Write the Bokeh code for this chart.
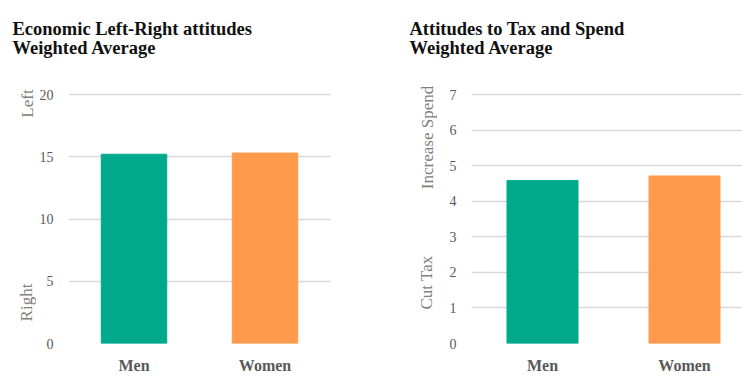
import math
from bokeh.plotting import figure
from bokeh.layouts import row, column
from bokeh.models import Range1d, FixedTicker, Label, ColumnDataSource
from bokeh.embed import file_html
from bokeh.resources import INLINE

categories = ["Men", "Women"]
econ_values = [15.2, 15.3]
tax_values = [4.58, 4.71]
bar_colors = ["#00A98B", "#FF9A4D"]
econ_ticks = [0, 5, 10, 15, 20]
tax_ticks = [0, 1, 2, 3, 4, 5, 6, 7]
econ_title = ["Economic Left-Right attitudes", "Weighted Average"]
tax_title = ["Attitudes to Tax and Spend", "Weighted Average"]
econ_side = ["Left", "Right"]
tax_side = ["Increase Spend", "Cut Tax"]

SERIF = "Liberation Serif"
GRAY = "#595959"
LIGHT = "#808080"
GRID = "#D9D9D9"
TITLE_COLOR = "#111111"

W = 371
H = 377
HEAD_H = 60
PLOT_TOP = 94       # pixel row of the top tick
FRAME_TOP = 72      # invisible frame top (room for side labels)
FRAME_BOTTOM = 343

xpos = [i + 0.5 for i in range(len(categories))]


def blank(width, height, y0, y1, top=0, bottom=0):
    f = figure(width=width, height=height, output_backend="svg", toolbar_location=None,
               x_range=Range1d(0, width), y_range=Range1d(y0, y1),
               min_border_left=0, min_border_right=0,
               min_border_top=top, min_border_bottom=bottom)
    f.axis.visible = False
    f.grid.visible = False
    f.outline_line_color = None
    return f


def make(values, ticks, ymax, frame_left, frame_right, slot_px, side_w,
         title_lines, title_x, side_texts, side_pos):
    head = blank(W, HEAD_H, HEAD_H, 0)
    for line, base in zip(title_lines, [28.5, 47]):
        head.add_layout(Label(x=title_x, y=base, text=line, text_font=SERIF,
                              text_font_style="bold", text_font_size="18.5px",
                              text_color=TITLE_COLOR, text_baseline="alphabetic"))

    side = blank(side_w, H - HEAD_H, FRAME_BOTTOM, FRAME_TOP,
                 top=FRAME_TOP - HEAD_H, bottom=H - FRAME_BOTTOM)
    for txt, (cx, cy) in zip(side_texts, side_pos):
        side.add_layout(Label(x=cx, y=cy, text=txt, angle=math.pi / 2,
                              text_font=SERIF, text_font_size="17px", text_color=LIGHT,
                              text_align="center", text_baseline="middle"))

    px_per_unit = (FRAME_BOTTOM - PLOT_TOP) / ymax
    y_end = ymax + (PLOT_TOP - FRAME_TOP) / px_per_unit
    frame_w = frame_right - frame_left
    p = figure(width=W - side_w, height=H - HEAD_H, output_backend="svg",
               toolbar_location=None,
               x_range=Range1d(0, frame_w / slot_px), y_range=Range1d(0, y_end),
               min_border_left=frame_left - side_w, min_border_right=W - frame_right,
               min_border_top=FRAME_TOP - HEAD_H, min_border_bottom=H - FRAME_BOTTOM)
    src = ColumnDataSource(dict(x=xpos, top=values, color=bar_colors))
    p.vbar(x="x", top="top", width=0.5, color="color", source=src)
    p.outline_line_color = None
    p.xgrid.grid_line_color = None
    p.ygrid.grid_line_color = GRID
    p.ygrid.grid_line_width = 1.5
    p.ygrid.ticker = FixedTicker(ticks=ticks)
    p.yaxis.ticker = FixedTicker(ticks=ticks)
    p.xaxis.ticker = FixedTicker(ticks=xpos)
    p.xaxis.major_label_overrides = {x: c for x, c in zip(xpos, categories)}
    for ax in (p.xaxis, p.yaxis):
        ax.axis_line_color = None
        ax.major_tick_line_color = None
        ax.minor_tick_line_color = None
        ax.major_tick_out = 0
        ax.major_tick_in = 0
        ax.major_label_text_color = GRAY
        ax.major_label_text_font = SERIF
    p.yaxis.major_label_text_font_size = "14px"
    p.yaxis.major_label_standoff = 15
    p.xaxis.major_label_text_font_size = "16px"
    p.xaxis.major_label_text_font_style = "bold"
    p.xaxis.major_label_standoff = 13
    return column(head, row(side, p, spacing=0), spacing=0)


left = make(econ_values, econ_ticks, 20, 67, 330, 131.5, 36, econ_title, 12,
            econ_side, [(27, 103), (26, 302)])
right = make(tax_values, tax_ticks, 7, 100, W, 142, 66, tax_title, 38,
             tax_side, [(56, 137), (55, 282)])

layout = row(left, right, spacing=0)
open("out.html", "w").write(file_html(layout, INLINE))
